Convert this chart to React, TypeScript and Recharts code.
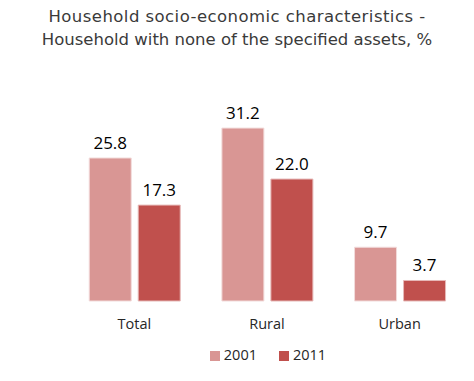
import React from 'react';
import { BarChart, Bar, XAxis, YAxis, Legend, LabelList } from 'recharts';

const categories = ['Total', 'Rural', 'Urban'];
const values2001 = [25.8, 31.2, 9.7];
const values2011 = [17.3, 22.0, 3.7];
const seriesNames = ['2001', '2011'];
const titleLines = [
  'Household socio-economic characteristics -',
  'Household with none of the specified assets, %',
];

const data = categories.map((c, i) => ({
  name: c,
  s2001: values2001[i],
  s2011: values2011[i],
}));

const fmt = (v: number) => v.toFixed(1);
const labelStyle = { fill: '#000', fontSize: 17, fontFamily: '"Open Sans", sans-serif' };

export default function App() {
  return (
    <div style={{ position: 'fixed', left: 0, top: 0, width: 474, height: 381, background: '#fff' }}>
      <div
        style={{
          position: 'absolute',
          top: 5,
          left: 0,
          width: 474,
          textAlign: 'center',
          fontFamily: '"DejaVu Sans", sans-serif',
          fontSize: 16.5,
          lineHeight: '23px',
          color: '#3a3a3a',
          whiteSpace: 'nowrap',
        }}
      >
        {titleLines.map((t, i) => (
          <div key={t} style={{ letterSpacing: i === 0 ? 0.45 : 0 }}>{t}</div>
        ))}
      </div>
      <BarChart
        width={474}
        height={381}
        data={data}
        margin={{ top: 107, right: 8, left: 68, bottom: 0 }}
        barCategoryGap="16%"
        barGap={7}
      >
        <XAxis
          dataKey="name"
          axisLine={false}
          tickLine={false}
          height={40}
          tick={{ fill: '#262626', fontSize: 14.5, fontFamily: '"Open Sans", sans-serif' }}
          tickMargin={12}
        />
        <YAxis hide domain={[0, 35]} />
        <Legend
          verticalAlign="bottom"
          height={36}
          iconType="square"
          iconSize={10}
          wrapperStyle={{
            fontFamily: '"Open Sans", sans-serif',
            fontSize: 14.5,
            color: '#262626',
            paddingTop: 4,
            whiteSpace: 'nowrap',
            transform: 'translateX(6px)',
          }}
          formatter={(v: string, _e: unknown, i: number) => (
            <span style={{ color: '#262626', marginRight: i === 0 ? 12 : 0 }}>{v}</span>
          )}
        />
        <Bar dataKey="s2001" name={seriesNames[0]} fill="#D99694" stroke="#F2DCDB" strokeWidth={1} isAnimationActive={false}>
          <LabelList dataKey="s2001" position="top" offset={9} formatter={fmt} style={labelStyle} />
        </Bar>
        <Bar dataKey="s2011" name={seriesNames[1]} fill="#C0504D" stroke="#E6B9B8" strokeWidth={1} isAnimationActive={false}>
          <LabelList dataKey="s2011" position="top" offset={9} formatter={fmt} style={labelStyle} />
        </Bar>
      </BarChart>
    </div>
  );
}
